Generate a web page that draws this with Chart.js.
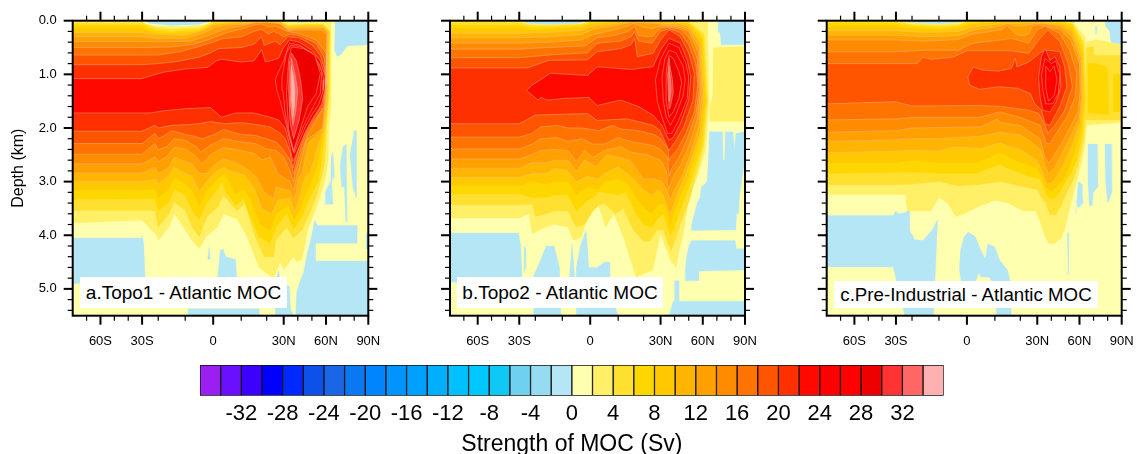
<!DOCTYPE html>
<html>
<head>
<meta charset="utf-8">
<title>Atlantic MOC</title>
<script src="https://cdn.jsdelivr.net/npm/chart.js"></script>
<style>
  html, body { margin: 0; background: #fff; }
  #page { position: relative; width: 1137px; height: 454px; overflow: hidden; }
  .holder { position: absolute; }
  .tag { position: absolute; background: #fff; color: #000; font: 19px "Liberation Sans", sans-serif; line-height: 31px; height: 31px; text-align: center; white-space: nowrap; }
</style>
</head>
<body>
<div id="page">
  <div class="holder" style="left:0;top:0;width:385px;height:350px"><canvas id="panelA"></canvas></div>
  <div class="holder" style="left:385px;top:0;width:375px;height:350px"><canvas id="panelB"></canvas></div>
  <div class="holder" style="left:760px;top:0;width:377px;height:350px"><canvas id="panelC"></canvas></div>
  <div class="holder" style="left:0;top:350px;width:1137px;height:104px"><canvas id="colorbar"></canvas></div>
  <div class="tag" style="left:80px;top:277px;width:207px">a.Topo1 - Atlantic MOC</div>
  <div class="tag" style="left:457px;top:277px;width:206px">b.Topo2 - Atlantic MOC</div>
  <div class="tag" style="left:834px;top:281px;width:264px;height:27px;line-height:27px;font-size:18.7px">c.Pre-Industrial - Atlantic MOC</div>
</div>
<script>
// --- AXIS DATA ---
const latTicks = [-60, -30, 0, 30, 60, 90];
const latLabels = ['60S', '30S', '0', '30N', '60N', '90N'];
const latMinor = [-70, -50, -40, -20, -10, 10, 20, 40, 50, 70, 80];
const latKnots = [-80, -30, -20, -10, 10, 20, 30, 90];
const latStops = [0, 69.4, 85.5, 112.5, 168.5, 194, 211, 295.6];
const depthTicks = [0, 1, 2, 3, 4, 5];
const depthMinor = [0.2, 0.4, 0.6, 0.8, 1.2, 1.4, 1.6, 1.8, 2.2, 2.4, 2.6, 2.8, 3.2, 3.4, 3.6, 3.8, 4.2, 4.4, 4.6, 4.8, 5.2, 5.4];
const barTicks = [-32, -28, -24, -20, -16, -12, -8, -4, 0, 4, 8, 12, 16, 20, 24, 28, 32];
const negColors = ['#9b1ff0', '#6a10ff', '#3c00ff', '#0000ff', '#0029ff', '#0d50ea', '#1a66e6', '#0a78f0', '#0085ff', '#0094ff', '#00a0ff', '#00b0ff', '#00c0ff', '#00c8ff', '#10c8f4', '#70d0f0', '#95dcf2', '#b5e6f5'];
const posColors = ['#ffffb0', '#fff068', '#ffe030', '#ffd700', '#ffc800', '#ffb400', '#ffa000', '#ff8c00', '#ff7300', '#ff5500', '#ff3000', '#ff0800', '#ff0000', '#ff0000', '#ee0000', '#ff3333', '#ff6666', '#ffb0b0'];

// --- CONTOURS: negative patches (lat, depth, ...) and [level, lat, depth, ...] ---
const topo1Neg = [
  [-28.5,0, -25,.05, -15,.09, -5,.07, -.5,0],
  [36,0, 40,.03, 48,.03, 52,0],
  [66.5,0, 66,.55, 68,.67, 71,.62, 75,.47, 90,.45, 90,0],
  [-80,4.05, -30.5,4.05, -30,4, -29,4.15, -28.5,4.5, -28,4.9, -80,4.9],
  [1.5,4.85, 2.5,4.28, 3.5,4.25, 4.5,4.4, 8,4.45, 8.5,4.87],
  [-2,4.45, -1.5,4.22, -1,4.45],
  [-9,5.5, -9,5.37, 17,5.37, 17,5.5],
  [25,5.5, 25.5,4.85, 27,4.65, 28,4.85, 30,4.9, 34,4.95, 35,5.4, 37.5,5.5],
  [52,3.72, 54,3.82, 82,3.82, 82,4.15, 52.5,4.15, 52.5,4.48, 90,4.48, 90,5.5, 38.5,5.5, 39,5.1, 41,4.9, 44,4.7, 47,4.3, 49,4.1],
  [63.5,2.55, 65,2.45, 66,2.9, 64,3, 64.5,3.2, 65,3.42, 59.5,3.42, 59.5,3.2, 63,3],
  [70,2.7, 72,2.35, 74.5,2.3, 75,3.75, 74,3.75, 73,3.1, 71,3.1],
  [77,2.5, 80,2.05, 81.5,2.05, 81.5,3.3, 79,3.1],
  [88.5,4, 90,3.9, 90,4.25, 88.5,4.25]
];
const topo1Bands = [
  [2, -80,.01, -30,.01, -27,.07, -20,.1, -10,.11, -3,.07, 0,.01, 29,.01, 33,.03, 40,.04, 50,.03, 59,.03, 63.5,.03, 63.5,1.6, 62,2, 61.5,2.6, 60.5,2.8, 58,3.1, 53,3.5, 47,3.9, 43,4.45, 39,4.5, 37,4.4, 30,4.65, 28,4.5, 24,4.8, 17,4.6, 12,4, 8.5,3.7, 3.7,3.6, 1.5,3.85, -2.5,4.03, -5,4.25, -7.5,4.1, -10,3.9, -14,3.6, -16,3.85, -20,4.1, -21,4, -30,3.72, -80,3.77],
  [4, -80,.04, -30,.04, -22,.13, -15,.16, -5,.13, 0,.03, 15,.01, 28,.01, 33,.08, 45,.06, 58,.06, 63,.2, 62.5,1.3, 60.3,2, 59.3,2.6, 58,2.8, 53,3.3, 49,3.55, 43,3.9, 37,4.05, 32,3.85, 25.5,4.1, 24,4.4, 19,4.4, 15.5,4.03, 11.5,3.4, 8.5,3.55, 3.7,3.26, 1.5,3.48, -2.3,3.66, -5,4.03, -7.5,3.85, -10,3.54, -14,3.38, -16,3.6, -20,3.85, -22,3.54, -30,3.54, -80,3.54],
  [6, -80,.08, -30,.08, -22,.18, -15,.2, -5,.17, 0,.05, 10,.02, 28,.02, 33,.1, 45,.08, 58,.08, 62.5,.2, 61.5,1.5, 59.5,2, 57,2.6, 54.5,3, 51,3.17, 47.5,3.35, 43,3.66, 37,3.88, 32,3.6, 25.5,3.85, 22,4.15, 17,4.03, 13,3.6, 11,3.32, 8,3.45, 4.3,3.17, 3,3, 1.3,3.17, -2.3,3.4, -5,3.7, -7.5,3.54, -10,3.26, -14,3.14, -16,3.38, -20,3.54, -22,3.32, -30,3.32, -80,3.33],
  [8, -80,.14, -30,.14, -22,.22, -15,.24, -5,.2, 0,.06, 10,.03, 28,.03, 33,.12, 45,.1, 58,.1, 62,.2, 61,1.5, 59,2, 54.5,2.6, 52.5,2.8, 49,3.04, 45,3.26, 41.5,3.54, 37.5,3.72, 33.5,3.45, 25.5,3.6, 22,3.9, 17.5,3.8, 13.8,3.35, 11,3.14, 8,3.23, 4.3,2.86, 2,2.93, -2.3,3.17, -5,3.45, -7.5,3.17, -10,3.04, -14,2.93, -16,3.14, -20,3.3, -22,3.14, -30,3.15, -80,3.15],
  [10, -80,.22, -30,.22, -20,.26, -10,.27, -3,.17, 0,.08, 5,.05, 12,.04, 28,.04, 33,.14, 45,.12, 58,.12, 61.5,.2, 60.5,1.5, 58.5,2, 52.5,2.5, 49,2.8, 45,2.92, 43,3.1, 40.5,3.35, 37.5,3.57, 34.5,3.3, 26.5,3.35, 23,3.6, 18,3.5, 15.3,3.14, 11.5,2.88, 6,2.8, 3.7,2.73, 0,2.85, -2.3,3, -5,3.17, -7.5,2.9, -10,2.85, -14,2.73, -16,2.87, -20,3.04, -21.5,2.95, -30,3, -80,3],
  [12, -80,.3, -30,.3, -20,.33, -10,.33, -3,.22, 0,.14, 5,.08, 12,.06, 18,.05, 28,.05, 33,.16, 45,.14, 58,.14, 61,.22, 60,1.5, 58,2, 47.5,2.29, 45,2.6, 43,2.85, 40.5,2.92, 39,3.17, 37,3.35, 34.5,3.17, 25.5,3.1, 24,3.32, 19,3.2, 16,2.92, 13,2.79, 9,2.67, 3.7,2.57, 0,2.7, -2.3,2.85, -5,2.85, -7.5,2.67, -10,2.63, -14,2.54, -16,2.73, -20,2.85, -22,2.73, -30,2.84, -80,2.84],
  [14, -80,.39, -30,.39, -15,.39, -8,.38, -3,.3, 0,.24, 5,.14, 10,.1, 15,.04, 19,.03, 24,.04, 28,.06, 33,.18, 45,.17, 57,.18, 60.5,.25, 59.5,1.5, 57.5,2, 46,2.23, 43,2.54, 40.5,2.79, 39,2.92, 37,3.17, 34.5,3, 26.5,2.85, 22,2.54, 18,2.6, 15.5,2.48, 10,2.42, 3.7,2.36, -1,2.5, -4,2.67, -6,2.54, -10,2.39, -14,2.36, -17,2.54, -20,2.63, -22,2.54, -30,2.67, -80,2.67],
  [16, -80,.5, -30,.5, -15,.49, -7,.44, -2,.36, 2,.28, 5,.22, 10,.16, 15,.08, 18,.06, 21,.12, 25,.1, 28,.14, 33,.2, 41,.24, 53,.36, 60,.6, 60.5,1.2, 59,1.6, 53,1.86, 47.5,2.1, 43,2.42, 40,2.67, 38,2.85, 37,3, 34.5,2.8, 30,2.54, 25.5,2.42, 20,2.39, 15.5,2.29, 10,2.26, 3.7,2.2, -1,2.32, -4.5,2.45, -6,2.35, -10,2.23, -14,2.2, -17,2.35, -20,2.41, -22,2.29, -30,2.49, -80,2.49],
  [18, -80,.64, -30,.64, -20,.64, -12,.58, -5,.48, 0,.4, 3,.34, 10,.3, 15,.2, 18,.16, 21,.25, 24,.2, 27,.24, 30,.3, 35,.25, 41,.28, 53,.42, 59,.7, 60,1.1, 58.5,1.6, 52,1.85, 47,2.05, 43,2.3, 40,2.55, 38.5,2.7, 37,2.85, 34.5,2.6, 30,2.42, 26,2.27, 20,2.2, 15.5,2.14, 10,2.12, 3.7,2.03, 0,2.13, -4,2.2, -7,2.15, -10,2.12, -15,2.05, -18,2.15, -20,2.2, -22,2.1, -30,2.29, -80,2.29],
  [20, -80,.82, -30,.82, -20,.8, -13,.76, -5,.68, -1,.6, 2,.52, 10,.5, 15,.44, 18,.3, 19,.46, 22,.42, 25,.38, 28,.45, 33,.3, 41,.32, 50,.45, 56,.65, 59,.9, 59.5,1.15, 58,1.55, 52,1.8, 47,2, 43,2.2, 40,2.42, 38,2.6, 36.5,2.75, 34.5,2.45, 31,2.2, 28,2.1, 22,1.98, 15,1.93, 10,1.9, 4,1.92, -1,1.88, -5,1.92, -10,1.94, -15,1.95, -20,2, -22,1.95, -30,2.06, -80,2.06],
  [22, -80,1.08, -30,1.08, -25,1.03, -18,.96, -10,.9, -2,.87, 1,.75, 3,.72, 10,.77, 15,.75, 18,.54, 19.5,.77, 22,.75, 27,.7, 30,.5, 34,.36, 41,.4, 50,.55, 56,.75, 59.5,1.05, 59.5,1.25, 57,1.55, 50,1.85, 45,2.1, 41,2.35, 38,2.55, 36.5,2.62, 34,2.3, 31,2, 27,1.85, 22,1.8, 15,1.72, 8,1.72, 3,1.8, -1,1.62, -10,1.64, -18,1.68, -25,1.72, -80,1.72],
  [24, 25,1.1, 27,.95, 30,.75, 34,.42, 41,.45, 50,.6, 56,.85, 58.5,1.1, 58,1.3, 55,1.55, 50,1.75, 45,2, 41,2.25, 37.5,2.47, 34,2.2, 31,1.85, 28,1.5, 26,1.3],
  [26, 29,1.05, 32,.6, 35,.46, 42,.48, 51,.62, 57,.95, 56,1.35, 51,1.6, 46,1.85, 41,2.15, 37,2.45, 33.5,2.1, 31,1.7, 29.5,1.3],
  [28, 35.5,.49, 44,.52, 52,.64, 56,.98, 53,1.36, 47,1.6, 41.5,2.04, 37,2.42, 33.5,2.04, 32,1.36, 33.5,.74],
  [30, 35.5,.6, 39,.75, 42,1.1, 43.5,1.45, 41,1.85, 37,2.2, 34.5,1.9, 33.5,1.3, 34,.8],
  [32, 35.5,.7, 38,1, 40,1.3, 38.5,1.7, 36.5,1.95, 35,1.6, 34.5,1.1],
  [34, 35.5,.85, 37,1.05, 38,1.3, 37.5,1.6, 36.5,1.82, 35.7,1.5, 35.3,1.1]
];

const topo2Neg = [
  [-29,0, -25,.05, -15,.09, -5,.06, -.5,0],
  [34.5,0, 40,.03, 50,.03, 57,0],
  [71,0, 71,.2, 72.5,.25, 73,.45, 90,.45, 90,0],
  [-80,3.96, -30.5,3.96, -29,4.2, -28,4.95, -80,4.87],
  [-27,4.2, -26,4.25, -26,4.6, -27,4.7],
  [-21,4.75, -18,4.45, -16,4.2, -13,4.2, -11,4.6, -10.5,5.5, -21,5.5],
  [-7.5,4.8, -6.5,4.15, -5.5,4.8],
  [-5,5.5, -5,4.6, -3.5,4.2, -1.5,3.9, -1,4.2, -.5,4.6, 2.5,4.6, 5,4.5, 7,4.5, 7,5, 10,5.5],
  [64.7,2.07, 74,2.07, 74.5,2.6, 75.5,2.6, 76,2.07, 81.5,2.07, 82.5,2.4, 83.5,2.1, 90,2.07, 90,2.6, 88,2.9, 86,3.3, 85.5,3.6, 84,3.6, 83.5,3.9, 52,3.91, 52,3.8, 56,3.4, 58,3.3, 59,3.1, 63,3, 64,2.6],
  [52,4.1, 83,4.1, 84,4.25, 90,4.25, 90,4.65, 57,4.67, 57,4.85, 47.5,4.85, 47.5,4.65, 48.5,4.4, 50,4.2],
  [40,4.85, 43,4.85, 43,5.23, 40,5.23],
  [39,5.23, 90,5.23, 90,5.5, 36,5.5]
];
const topo2Bands = [
  [2, -80,.01, -30,.01, -25,.05, -15,.07, -3,.05, 0,.01, 28,.01, 33,.01, 63.5,.01, 64.5,1.5, 62,2.4, 57,2.85, 53,3.1, 49,3.5, 46,4, 44,4.2, 41,4.6, 37,4.47, 30,3.97, 25.5,4.65, 17,4.78, 12,4.03, 8.5,3.6, 5.5,3.85, 2.3,3.35, -.5,3.57, -3,4.03, -6,4.1, -8,3.85, -13,3.8, -16,3.85, -22,3.97, -24,3.6, -30,3.68, -80,3.68],
  [2, 67.5,.5, 90,.48, 90,1.88, 64.5,1.88, 65,1.6, 67,1.4],
  [4, -80,.02, -30,.03, -22,.09, -15,.09, -3,.06, 0,.02, 33,.01, 50,.02, 61,.25, 63.5,1.5, 60.5,2.35, 56,2.8, 51,3.3, 47,3.6, 44,3.8, 41,4.05, 37.5,4.3, 35,4.15, 32,3.9, 28,3.9, 24,4.1, 20,4.12, 16,3.9, 12,3.5, 9,3.6, 5,3.4, 3,3.45, 1,3.55, -2,3.8, -5,3.85, -8,3.55, -13,3.55, -16,3.6, -20,3.65, -22,3.42, -30,3.43, -80,3.43],
  [6, -80,.08, -30,.08, -22,.13, -15,.12, -3,.09, 0,.04, 15,.01, 33,.02, 50,.04, 60,.3, 62.5,1.5, 59.5,2.3, 55,2.7, 50,3.1, 46,3.4, 43,3.6, 40,3.85, 37,4, 35,3.85, 32,3.6, 28,3.7, 25,3.85, 20,3.8, 17,3.6, 13,3.2, 10,3.25, 5,3.2, 3,3.2, 1,3.3, -1,3.35, -5,3.55, -8,3.25, -13,3.25, -16,3.3, -22,3.3, -30,3.23, -80,3.23],
  [8, -80,.14, -30,.14, -22,.18, -15,.16, -3,.12, 0,.06, 15,.01, 28,.02, 33,.03, 50,.06, 59,.35, 61.5,1.5, 58.5,2.2, 54,2.55, 49,3, 45,3.2, 42,3.4, 39,3.6, 37,3.8, 35,3.6, 32,3.4, 28,3.45, 25,3.6, 21,3.5, 17,3.3, 14,3.05, 10,2.95, 5,3, 3,3.15, -1,3.1, -5,3.25, -8,3, -13,3, -16,3.05, -22,3, -30,3.07, -80,3.07],
  [10, -80,.24, -30,.24, -15,.22, -3,.18, 1,.1, 8,.06, 15,.02, 28,.03, 33,.05, 44,.06, 50,.1, 58,.4, 60.5,1.4, 58,2.1, 53,2.5, 48,2.85, 44,3.1, 41,3.3, 39,3.45, 36.5,3.6, 34,3.4, 31,3.2, 28,3.15, 25,3.25, 20,3.15, 15,2.9, 10,2.72, 5,2.85, 3,2.95, -1,2.9, -5,3, -8,2.8, -13,2.75, -16,2.85, -22,2.85, -30,2.92, -80,2.92],
  [12, -80,.32, -30,.32, -15,.3, -3,.26, 1,.16, 8,.1, 15,.03, 28,.05, 33,.08, 44,.1, 50,.15, 57.5,.5, 59.5,1.3, 57,2, 51,2.5, 46,2.85, 42,3.05, 39,3.2, 37,3.35, 35,3.2, 31,3, 26,2.95, 24,2.95, 20,2.95, 15,2.62, 11,2.55, 6,2.5, 2,2.72, -2,2.6, -5,2.8, -8,2.6, -13,2.6, -16,2.65, -22,2.65, -30,2.75, -80,2.75],
  [14, -80,.42, -30,.42, -15,.4, -3,.36, 1,.26, 8,.18, 14,.1, 16,.05, 20,.12, 25,.15, 30,.1, 36,.1, 44,.13, 50,.2, 57,.6, 58.5,1.3, 56,1.85, 50,2.35, 44,2.7, 40,2.85, 37,3.05, 35.5,3.15, 34,2.8, 30,2.6, 26,2.55, 22,2.5, 15,2.45, 11,2.35, 5,2.42, 1,2.55, -2,2.42, -5,2.62, -8,2.42, -13,2.4, -18,2.42, -22,2.5, -30,2.58, -80,2.58],
  [16, -80,.53, -30,.53, -15,.5, -2,.47, 2.5,.32, 8,.28, 14,.2, 16.5,.1, 18,.28, 25,.3, 30,.13, 36,.12, 44,.16, 50,.3, 56,.7, 57.5,1.3, 55,1.75, 49,2.2, 43,2.55, 38,2.75, 36,2.9, 35,2.55, 30,2.4, 26,2.33, 15,2.25, 10,2.18, 5,2.3, 1,2.3, -3,2.2, -8,2.25, -12,2.18, -18,2.2, -22,2.3, -30,2.39, -80,2.39],
  [18, -80,.69, -30,.69, -15,.64, -1,.6, 2.5,.42, 11,.38, 15,.3, 16.5,.2, 18,.38, 25,.42, 30,.2, 36,.15, 44,.22, 50,.45, 55,.8, 56.5,1.2, 54,1.7, 48,2.1, 42,2.4, 37,2.55, 36,2.62, 35.5,2.4, 30,2.2, 26,2.12, 18,2.05, 11,2.02, 8,1.95, 3,2.05, -3,2, -8,2, -12,1.95, -18,1.98, -22,2.1, -30,2.17, -80,2.17],
  [20, -80,.88, -30,.88, -25,.88, -15,.74, -1,.73, 2.5,.58, 11,.52, 15,.45, 16.5,.33, 17.5,.67, 25.5,.61, 30,.36, 36,.17, 44,.3, 50,.6, 54,.98, 53,1.48, 46.5,1.98, 41,2.23, 36,2.42, 29.5,2.04, 25.5,1.95, 13.5,1.83, 2.5,1.86, -1,1.73, -20,1.76, -30,1.92, -80,1.92],
  [22, -25.5,1.3, -22,1.2, -18,1.1, -14.5,.98, -1,1.02, 2.5,.86, 15.5,.91, 18,.89, 25.5,.86, 30,.55, 36,.33, 44,.42, 49,.74, 51.5,1.05, 50,1.48, 44,1.92, 39,2.17, 36,2.23, 31,1.95, 25.5,1.76, 18,1.6, 11,1.48, 2.5,1.58, -.5,1.43, -9.5,1.45, -15.5,1.48, -18,1.43, -19,1.48, -22,1.39],
  [24, 27,1.1, 30,.72, 36,.42, 43,.5, 48,.8, 50,1.05, 49,1.45, 43,1.85, 38,2.1, 35,2.1, 31,1.8, 28,1.5],
  [26, 31,1.05, 33,.72, 36,.55, 41,.6, 46,.85, 47.5,1.1, 46,1.4, 41,1.75, 37,1.95, 34,1.8, 32,1.5],
  [28, 34,.95, 36,.65, 39,.7, 43,.95, 45,1.15, 43,1.45, 39,1.7, 36,1.8, 34,1.5],
  [30, 35,1, 36,.7, 37,.9, 38.5,1.1, 39,1.35, 37,1.6, 36,1.65, 35.5,1.35],
  [32, 35.7,1, 36,.85, 37,1.1, 37.5,1.3, 36.5,1.5, 36,1.4]
];

const preindNeg = [
  [-28,0, -25,.06, -15,.1, -6,.07, -.3,0],
  [44,0, 47,.04, 56.5,.04, 56.5,0],
  [78.5,0, 78.5,.1, 81.5,.2, 82.5,.45, 90,.45, 90,0],
  [71.5,.1, 72,.1, 72,.25, 71.5,.25],
  [-80,3.63, -32,3.63, -30,3.55, -28.5,3.6, -24.5,3.58, -21.5,3.52, -21.5,3.9, -19,4.08, -16,4.1, -12.5,3.9, -10.5,3.7, -12,5.5, -24.5,5.5, -31,4.7, -32,4.59, -80,4.59],
  [-2.7,4.65, -2.3,4.28, -1,4.03, .5,3.94, 3,4.03, 5,4.28, 6.5,4.44, 7.5,4.16, 10,4.22, 12,4.47, 15,4.65, 16,4.85, 16.5,5.5, 10.5,5.5, 10.5,5, 8,4.78, 5,4.78, 4.3,4.7, 3,4.87, -2,4.87],
  [66,2.3, 72.5,2.3, 73,3.1, 70,3.2, 69,3.45, 67,3.45, 66,3],
  [78,2.3, 82.5,2.3, 83,3.2, 81,3.35, 80,3.4, 78.5,3],
  [59,3, 62,3.05, 62.5,3.4, 59,3.5, 58,3.35, 57.5,3.6],
  [51.5,4, 52.5,3.95, 52,4.75],
  [89.5,3.95, 90,3.95, 90,4.2, 89.5,4.2]
];
const preindBands = [
  [2, -80,.01, -30,.01, -20,.04, -10,.06, -3,.04, 0,.01, 33,.01, 55,.02, 64,.3, 66,1.6, 64,2.3, 60,2.8, 56,3.2, 53,3.5, 50,3.85, 47,4.05, 42,4.16, 38,4.15, 35,4, 32,3.75, 29,3.55, 22,3.55, 15,3.4, 10,3.35, 5,3.45, -1,3.6, -4,3.65, -7,3.4, -10,3.3, -13,3.55, -18,3.55, -23,3.55, -24,3.25, -30,3.24, -80,3.24],
  [2, 64.5,.4, 72,.35, 90,.45, 90,1.9, 63,1.95],
  [4, -80,.01, -30,.02, -20,.07, -10,.09, -3,.07, 0,.02, 33,.01, 46,.01, 55,.04, 63,.4, 65,1.6, 63,2.2, 59,2.7, 55,3, 51,3.2, 47,3.45, 43,3.62, 39,3.62, 36,3.4, 33,3.3, 30,3.15, 20,3.08, 12,3, 5,3.05, -3,3.08, -10,3, -20,3.05, -30,3.06, -80,3.06],
  [4, 65,.5, 70,.48, 70.5,.65, 90,.65, 90,1.85, 64,1.85],
  [6, -80,.04, -30,.05, -20,.1, -10,.13, -3,.1, 1,.04, 33,.02, 46,.03, 55,.07, 62.5,.5, 64,1.5, 62,2.1, 58,2.6, 54,2.85, 50,3, 46,3.2, 42,3.32, 38,3.3, 35,3.15, 32,2.95, 25,2.9, 15,2.75, 12,2.68, 8,2.75, 3,2.85, -10,2.85, -20,2.82, -30,2.83, -80,2.85],
  [6, 66,.8, 71,.8, 78,.85, 80,.9, 81,1.75, 66,1.72],
  [6, 84,1, 90,1, 90,1.7, 84,1.7],
  [8, -80,.11, -30,.11, -20,.15, -10,.17, -3,.14, 1,.07, 12,.03, 33,.03, 46,.05, 55,.12, 62,.6, 63,1.5, 61,2, 56,2.5, 50,2.9, 47,3, 43,3.12, 40,3.18, 36,3.1, 33,2.9, 30,2.75, 25,2.7, 18,2.6, 12,2.45, 8,2.55, 3,2.65, -10,2.65, -20,2.6, -30,2.65, -80,2.65],
  [10, -80,.19, -30,.19, -15,.22, -3,.2, 2,.12, 12,.06, 28,.04, 33,.04, 46,.07, 55,.2, 61.5,.7, 62,1.5, 60.5,1.9, 55,2.3, 50,2.6, 45,2.85, 41,3, 37,3.05, 34,2.85, 30,2.6, 20,2.4, 12,2.28, 10,2.3, 5,2.38, -5,2.35, -10,2.43, -20,2.42, -30,2.43, -80,2.46],
  [12, -80,.27, -30,.27, -15,.3, -3,.28, 2,.18, 12,.1, 15,.05, 18,.1, 21,.1, 25,.08, 28,.06, 33,.05, 46,.1, 55,.3, 61,.8, 61.5,1.4, 60,1.8, 54,2.15, 48,2.45, 42,2.75, 38,2.85, 35.5,2.7, 33,2.42, 26,2.25, 20,2.13, 12,2.08, 5,2.15, -10,2.2, -20,2.2, -30,2.22, -80,2.25],
  [14, -80,.36, -30,.36, -15,.38, -3,.35, 2,.25, 12.5,.17, 15,.08, 18,.25, 22,.28, 25,.25, 27,.1, 30,.08, 35,.1, 46,.16, 54,.38, 60,.8, 60.5,1.3, 59,1.7, 53,2, 47,2.3, 41,2.55, 38,2.65, 35.5,2.55, 32,2.2, 26,2.08, 20,1.95, 12,1.9, 11,1.83, 5,1.98, -20,2, -30,2.05, -80,2.08],
  [16, -80,.58, -30,.58, -15,.55, -3,.55, 2,.42, 14,.35, 16.5,.33, 25,.42, 30,.17, 35.5,.1, 46,.24, 53,.55, 58,.98, 57,1.42, 51,1.8, 43.5,2.1, 39,2.29, 36.5,2.29, 32,1.95, 20,1.8, 12,1.7, 4.5,1.8, -20,1.8, -30,1.83, -80,1.85],
  [18, -80,.8, -30,.8, -18,.8, -16,.68, -13,.72, -5,.68, 0,.56, 16.5,.56, 25,.61, 31,.36, 37.5,.17, 46,.39, 52,.8, 55,1.23, 49.5,1.67, 42.5,1.95, 37.5,2.1, 35.5,1.95, 31,1.73, 25,1.67, 12.5,1.6, 4.5,1.58, -20,1.59, -30.5,1.51, -80,1.55],
  [20, .3,1.05, 2.3,.86, 5.4,.92, 11.5,.94, 16.5,.89, 18,.7, 18.7,.86, 25,.77, 33,.58, 37.5,.55, 46,.58, 49.5,.86, 51,1.23, 46,1.6, 39,1.95, 35.5,1.92, 33,1.67, 28.5,1.55, 26,1.36, 19,1.26, 11.5,1.23, 4.5,1.28, 1,1.2],
  [22, 31,1.05, 33,.67, 35.5,.52, 39,.74, 42.5,.67, 46,.86, 46.7,1.23, 43.5,1.51, 39,1.7, 34,1.67, 32,1.42],
  [24, 33,1, 35.5,.7, 40,.8, 43,.75, 46,1, 45,1.35, 41,1.55, 36,1.55, 34,1.3],
  [26, 36,.85, 39,.95, 42,.85, 44,1.1, 42,1.4, 38,1.5, 36,1.25]
];

// piecewise axis, the map stretches the tropics like the original figure
class LatScale extends Chart.LinearScale {
  getPixelForValue(v) {
    let i = 0;
    while (i < latKnots.length - 2 && v > latKnots[i + 1]) i++;
    const t = (v - latKnots[i]) / (latKnots[i + 1] - latKnots[i]);
    const pos = latStops[i] + t * (latStops[i + 1] - latStops[i]);
    return this.getPixelForDecimal(pos / latStops[latStops.length - 1]);
  }
}
LatScale.id = 'lat';
LatScale.defaults = {};
Chart.register(LatScale);

const frameTicks = {
  id: 'frameTicks',
  afterDatasetsDraw(chart) {
    const { ctx, chartArea: a, scales: { x, y } } = chart;
    const hLine = (py, x0, x1, w) => { ctx.lineWidth = w; ctx.beginPath(); ctx.moveTo(x0, py); ctx.lineTo(x1, py); ctx.stroke(); };
    const vLine = (px, y0, y1, w) => { ctx.lineWidth = w; ctx.beginPath(); ctx.moveTo(px, y0); ctx.lineTo(px, y1); ctx.stroke(); };
    ctx.save();
    ctx.strokeStyle = '#000';
    latTicks.forEach(v => { const p = x.getPixelForValue(v); vLine(p, a.top - 9, a.top, 2); vLine(p, a.bottom, a.bottom + 9, 2); });
    latMinor.forEach(v => { const p = x.getPixelForValue(v); vLine(p, a.top - 5, a.top, 1.2); vLine(p, a.bottom, a.bottom + 5, 1.2); });
    depthTicks.forEach(v => { const p = y.getPixelForValue(v); hLine(p, a.left - 9, a.left, 2); hLine(p, a.right, a.right + 9, 2); });
    depthMinor.forEach(v => { const p = y.getPixelForValue(v); hLine(p, a.left - 5, a.left, 1.2); hLine(p, a.right, a.right + 5, 1.2); });
    ctx.lineWidth = 2;
    ctx.strokeRect(a.left, a.top, a.right - a.left, a.bottom - a.top);
    ctx.restore();
  }
};

function polygon(flat, color, seam) {
  const pts = [];
  for (let i = 0; i < flat.length; i += 2) pts.push({ x: flat[i], y: flat[i + 1] });
  pts.push(pts[0]);
  return { data: pts, showLine: true, fill: 'shape', backgroundColor: color, borderColor: seam ? 'rgba(255,190,150,0.55)' : color, borderWidth: seam ? 0.8 : 0.3, pointRadius: 0, tension: 0 };
}

function drawPanel(id, neg, bands, plotLeft, plotRight, canvasRight, showDepth) {
  const list = [polygon([-80, 0, 90, 0, 90, 5.5, -80, 5.5], posColors[0], false)];
  neg.forEach(p => list.push(polygon(p, negColors[17], false)));
  bands.forEach(b => list.push(polygon(b.slice(1), posColors[b[0] / 2], b[0] >= 10)));
  list.reverse(); // chart.js paints the first dataset last

  new Chart(document.getElementById(id), {
    type: 'scatter',
    data: { datasets: list },
    plugins: [frameTicks],
    options: {
      responsive: true,
      maintainAspectRatio: false,
      animation: false,
      layout: { padding: { top: 20.7, right: canvasRight - plotRight, left: 0, bottom: 0 } },
      plugins: { legend: { display: false }, tooltip: { enabled: false } },
      scales: {
        x: {
          type: 'lat', min: -80, max: 90,
          grid: { display: false, drawTicks: false }, border: { display: false },
          afterBuildTicks: s => { s.ticks = latTicks.map(v => ({ value: v })); },
          afterFit: s => { s.height = 350 - 315.7; s.paddingLeft = 0; s.paddingRight = 0; },
          ticks: { autoSkip: false, maxRotation: 0, padding: 18, color: '#000', font: { family: 'Liberation Sans', size: 13 }, callback: (v, i) => latLabels[i] }
        },
        y: {
          reverse: true, min: 0, max: 5.5,
          grid: { display: false, drawTicks: false }, border: { display: false },
          afterBuildTicks: s => { s.ticks = depthTicks.map(v => ({ value: v })); },
          afterFit: s => { s.width = plotLeft; s.paddingTop = 0; s.paddingBottom = 0; },
          title: { display: showDepth, text: 'Depth (km)', color: '#000', padding: { top: 9, bottom: 0 }, font: { family: 'Liberation Sans', size: 16 } },
          ticks: { display: showDepth, padding: 16, color: '#000', font: { family: 'Liberation Sans', size: 13 }, callback: v => v.toFixed(1) }
        }
      }
    }
  });
}

drawPanel('panelA', topo1Neg, topo1Bands, 72.7, 368.3, 385, true);
drawPanel('panelB', topo2Neg, topo2Bands, 65, 360, 375, false);
drawPanel('panelC', preindNeg, preindBands, 66.7, 361.7, 377, false);

// --- COLOR BAR ---
const barColors = negColors.concat(posColors);
new Chart(document.getElementById('colorbar'), {
  type: 'bar',
  data: {
    labels: ['MOC'],
    datasets: barColors.map((c, i) => ({ data: [[-36 + i * 2, -34 + i * 2]], backgroundColor: c, borderColor: '#111', borderWidth: 1, borderSkipped: false, grouped: false, barPercentage: 1, categoryPercentage: 1 }))
  },
  options: {
    indexAxis: 'y',
    responsive: true,
    maintainAspectRatio: false,
    animation: false,
    layout: { padding: { left: 200, right: 1137 - 943.7, top: 15, bottom: 0 } },
    plugins: { legend: { display: false }, tooltip: { enabled: false } },
    scales: {
      y: { display: false },
      x: {
        min: -36, max: 36,
        grid: { display: false, drawTicks: false }, border: { display: false },
        afterBuildTicks: s => { s.ticks = barTicks.map(v => ({ value: v })); },
        afterFit: s => { s.height = 104 - 45.7; s.paddingLeft = 0; s.paddingRight = 0; },
        ticks: { autoSkip: false, maxRotation: 0, padding: 5, color: '#000', font: { family: 'Liberation Sans', size: 22 } },
        title: { display: true, text: 'Strength of MOC (Sv)', color: '#000', padding: { top: 0, bottom: -2 }, font: { family: 'Liberation Sans', size: 23, lineHeight: 1 } }
      }
    }
  }
});
</script>
</body>
</html>
